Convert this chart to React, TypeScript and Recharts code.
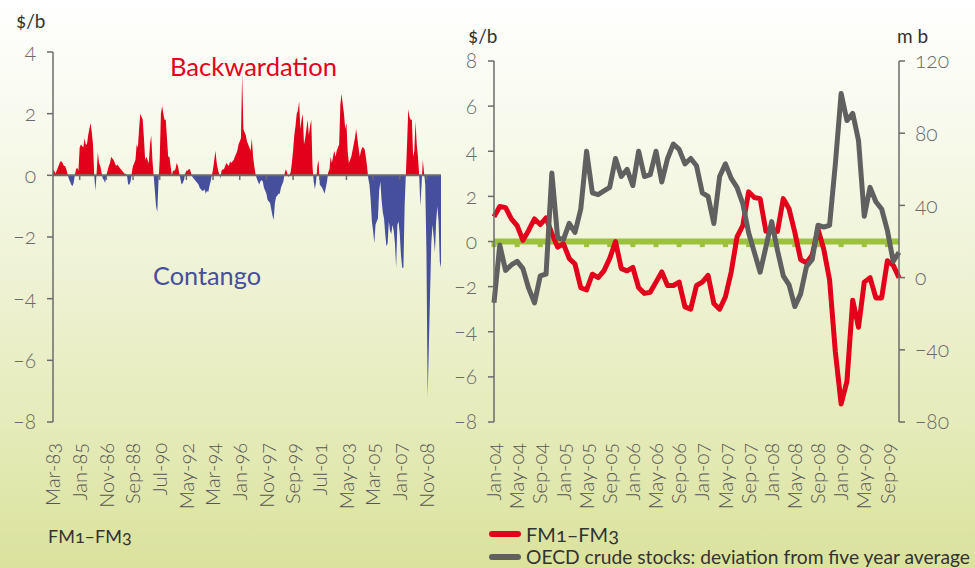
import React from 'react';
import { AreaChart, Area, LineChart, Line, XAxis, YAxis, ReferenceLine } from 'recharts';

const MONTHS = ['Jan', 'Feb', 'Mar', 'Apr', 'May', 'Jun', 'Jul', 'Aug', 'Sep', 'Oct', 'Nov', 'Dec'];

const monthLabels = (year: number, month: number, count: number) =>
  Array.from({ length: count }, (_, i) => {
    const m = month + i;
    const y = year + Math.floor(m / 12);
    return `${MONTHS[m % 12]}-${String(y % 100).padStart(2, '0')}`;
  });

// FM1–FM3, $/b, monthly Mar-83 .. Nov-09
const spreadLong = [
  0.2, 0.15, 0.05, 0.15, 0.25, 0.35, 0.45, 0.45, 0.4, 0.3,
  0.3, 0.2, 0.05, -0.1, -0.2, -0.3, -0.35, -0.25, 0, 0.2, 0.25, 0.15,
  0.9, 1.0, 0.95, 0.9, 1.2, 1.0, 1.0, 1.3, 1.5, 1.7, 1.4, 1.0,
  0, -0.5, 0.1, 0.75, 0.4, 0.3, 0.1, -0.1, -0.15, -0.25, 0, 0.15,
  0.3, 0.4, 0.6, 0.55, 0.5, 0.4, 0.3, 0.35, 0.3, 0.25, 0.2, 0.15,
  0.1, 0.05, 0.05, 0, -0.3, -0.3, -0.2, 0.1, 0.3, 0.4, 0.5, 1.0,
  0.9, 1.5, 2.0, 1.9, 1.8, 1.2, 0.5, 0.6, 0.5, 0.4, 1.0, 1.3,
  0.5, 0, -0.5, -1.0, -1.2, -0.2, 0.5, 2.0, 2.25, 2.0, 1.8, 1.8,
  1.2, 0.6, 0.6, 0.3, 0, 0.15, 0.15, 0.2, 0.4, 0.3, 0.1, -0.1,
  -0.3, -0.25, -0.15, 0.05, 0.15, 0.15, 0.2, 0.2, 0.05, -0.05, -0.1, -0.15,
  -0.2, -0.25, -0.3, -0.4, -0.45, -0.5, -0.5, -0.45, -0.6, -0.5, -0.55, -0.35,
  -0.2, 0, 0.2, 0.5, 0.8, 0.4, 0.2, 0.05, -0.1, 0.15, 0.2, 0.2,
  0.3, 0.4, 0.35, 0.3, 0.45, 0.4, 0.45, 0.5, 0.6, 0.7, 0.8, 1.0,
  1.1, 1.2, 3.3, 1.5, 1.4, 1.3, 1.1, 1.0, 0.9, 0.8, 1.2, 0.6,
  0.3, 0.05, -0.1, -0.2, -0.3, -0.2, -0.15, -0.2, -0.4, -0.5, -0.6, -0.8,
  -0.85, -0.9, -1.1, -1.3, -1.45, -0.9, -0.7, -0.65, -0.6, -0.6, -0.4, -0.3,
  -0.2, 0.05, 0.2, 0.1, -0.05, 0, 0.1, 0.4, 0.8, 1.3, 1.6, 2.0,
  2.1, 2.4, 1.5, 1.8, 2.0, 1.0, 1.2, 1.5, 1.8, 1.3, 1.6, 1.8,
  0.3, -0.2, -0.45, -0.2, 0.3, 0.5, -0.3, -0.35, -0.4, -0.5, -0.6, -0.4,
  -0.2, 0.1, 0.2, 0.6, 0.4, 0.6, 0.8, 0.6, 0.8, 0.9, 1.0, 2.3,
  2.65, 2.3, 2.0, 1.5, 1.7, 0.8, 0.4, 0.5, 0.6, 0.8, 1.0, 1.2,
  1.5, 1.2, 0.9, 0.6, 0.8, 0.9, 0.9, 0.85, 0.6, 0.3, -0.1, -0.3,
  -0.8, -1.5, -1.8, -2.2, -1.6, -1.5, -1.4, -0.5, -0.2, -0.8, -1.2, -1.4,
  -1.9, -2.3, -2.2, -1.5, -1.8, -1.9, -1.6, -1.8, -2.2, -3.0, -1.6, -1.5,
  -1.9, -2.6, -3.0, -3.0, -1.0, 0, 1.0, 2.14, 1.9, 1.8, 1.8, 0.6,
  0.8, 1.75, 1.0, 0.6, 0, -1.0, -0.3, 0.5, 0.1, -0.3, -2.5, -7.2,
  -5.5, -3.8, -2.2, -1.6, -2.0, -2.5, -1.5, -1.0, -1.5, -2.8, -3.0,
];

// FM1–FM3, $/b, monthly Jan-04 .. Nov-09
const spreadShort = [
  1.1, 1.55, 1.5, 1.0, 0.7, 0.05, 0.5, 1.0, 0.75, 1.05, 0.35, -0.25,
  -0.1, -0.75, -1.0, -2.05, -2.15, -1.45, -1.6, -1.3, -0.75, 0.0, -1.2, -1.3,
  -1.15, -2.05, -2.3, -2.25, -1.8, -1.35, -1.95, -1.95, -1.8, -2.9, -3.0, -1.95,
  -1.8, -1.5, -2.75, -3.0, -2.45, -1.35, 0.2, 0.7, 2.2, 1.95, 1.9, 0.45,
  0.55, 0.45, 1.9, 1.45, 0.4, -0.8, -0.95, -0.6, 0.55, -0.35, -1.7, -4.9,
  -7.2, -6.2, -2.6, -3.8, -1.8, -1.6, -2.5, -2.5, -0.85, -1.05, -1.6,
];

// OECD crude stocks, deviation from five year average, m b
const oecdStocks = [
  -14, 18, 4, 7, 9, 5, -6, -14, 1, 2, 58, 22,
  21, 30, 25, 38, 70, 47, 46, 48, 50, 66, 56, 60,
  51, 70, 56, 57, 70, 53, 66, 74, 71, 63, 66, 62,
  47, 45, 30, 56, 63, 55, 50, 41, 25, 14, 3, 17,
  31, 15, 1, -4, -16, -9, 6, 10, 29, 28, 29, 63,
  102, 87, 91, 76, 34, 50, 42, 38, 26, 9, 14,
];

const longLabels = monthLabels(1983, 2, spreadLong.length);
const shortLabels = monthLabels(2004, 0, spreadShort.length);

const longTicks = [-8, -6, -4, -2, 0, 2, 4];
const leftTicks = [-8, -6, -4, -2, 0, 2, 4, 6, 8];
const rightTicks = [-80, -40, 0, 40, 80, 120];

const longData = spreadLong.map((v, i) => ({ m: longLabels[i], v }));
const shortData = spreadShort.map((v, i) => ({ m: shortLabels[i], fm: v, stocks: oecdStocks[i] }));

const longMarks = longLabels.filter((_, i) => i > 0 && i % 22 === 0);
const shortMarks = shortLabels.filter((_, i) => i % 4 === 0);

const maxV = Math.max(...spreadLong);
const minV = Math.min(...spreadLong);
const split = maxV / (maxV - minV);

const RED = '#e2001a';
const BLUE = '#454f9c';
const GREY = '#606060';
const AXIS = '#6b6b6b';
const GREEN = '#9cc23c';

const minus = (v: number) => (v < 0 ? `\u2212${Math.abs(v)}` : `${v}`);

const MonthTick = (props: any) => {
  const { x, y, payload } = props;
  return (
    <text
      x={x}
      y={y}
      dy="0.36em"
      textAnchor="end"
      fill="#555"
      fontSize={20}
      fontWeight={300}
      transform={`rotate(-90 ${x} ${y})`}
    >
      {payload.value}
    </text>
  );
};

const yTick = { fill: AXIS, fontSize: 21, fontWeight: 300 };
const axisLine = { stroke: AXIS, strokeWidth: 1.5 };

export default function App() {
  return (
    <div
      style={{
        position: 'absolute',
        left: 0,
        top: 0,
        width: 975,
        height: 568,
        overflow: 'hidden',
        fontFamily: 'Lato, "Noto Sans", sans-serif',
        fontVariantNumeric: 'oldstyle-nums',
        background: 'linear-gradient(to bottom, #ffffff 0%, #f7f9ea 25%, #eef2d3 50%, #e5ebb9 75%, #dae29c 100%)',
      }}
    >
      <div style={{ position: 'absolute', left: 0, top: 0 }}>
        <AreaChart width={460} height={568} data={longData} margin={{ top: 52, right: 19, bottom: 0, left: 0 }}>
          <defs>
            <linearGradient id="splitFill" x1="0" y1="0" x2="0" y2="1">
              <stop offset={split} stopColor={RED} />
              <stop offset={split} stopColor={BLUE} />
            </linearGradient>
          </defs>
          <XAxis
            dataKey="m"
            interval={21}
            height={146}
            axisLine={false}
            tickLine={false}
            tickSize={0}
            tickMargin={21}
            tick={<MonthTick />}
          />
          <YAxis
            domain={[-8, 4]}
            ticks={longTicks}
            width={53}
            tick={yTick}
            tickFormatter={minus}
            tickSize={6}
            tickMargin={11}
            axisLine={axisLine}
            tickLine={axisLine}
          />
          {longMarks.map((m) => (
            <ReferenceLine
              key={m}
              segment={[{ x: m, y: 0 }, { x: m, y: -0.15 }]}
              stroke={AXIS}
              strokeWidth={1.5}
            />
          ))}
          <Area
            type="linear"
            dataKey="v"
            stroke="none"
            fill="url(#splitFill)"
            fillOpacity={1}
            isAnimationActive={false}
          />
          <ReferenceLine y={0} stroke={AXIS} strokeWidth={2} />
        </AreaChart>
      </div>

      <div style={{ position: 'absolute', left: 440, top: 0 }}>
        <LineChart width={535} height={568} data={shortData} margin={{ top: 61, right: 0, bottom: 0, left: 0 }}>
          <XAxis
            dataKey="m"
            interval={3}
            height={146}
            axisLine={false}
            tickLine={false}
            tickSize={0}
            tickMargin={21}
            tick={<MonthTick />}
          />
          <YAxis
            yAxisId="l"
            domain={[-8, 8]}
            ticks={leftTicks}
            width={54}
            tick={yTick}
            tickFormatter={minus}
            tickSize={6}
            tickMargin={11}
            axisLine={axisLine}
            tickLine={axisLine}
          />
          <YAxis
            yAxisId="r"
            orientation="right"
            domain={[-80, 120]}
            ticks={rightTicks}
            width={76}
            tick={{ ...yTick, textAnchor: 'start' }}
            tickFormatter={minus}
            tickSize={6}
            tickMargin={10}
            axisLine={axisLine}
            tickLine={axisLine}
          />
          <ReferenceLine yAxisId="l" y={0} stroke={GREEN} strokeWidth={6} />
          {shortMarks.map((m) => (
            <ReferenceLine
              key={m}
              yAxisId="l"
              segment={[{ x: m, y: 0 }, { x: m, y: -0.25 }]}
              stroke={GREEN}
              strokeWidth={5}
            />
          ))}
          <Line
            yAxisId="l"
            type="linear"
            dataKey="fm"
            stroke={RED}
            strokeWidth={5}
            strokeLinejoin="round"
            dot={false}
            isAnimationActive={false}
          />
          <Line
            yAxisId="r"
            type="linear"
            dataKey="stocks"
            stroke={GREY}
            strokeWidth={5}
            strokeLinejoin="round"
            dot={false}
            isAnimationActive={false}
          />
        </LineChart>
      </div>

      <svg width={975} height={568} style={{ position: 'absolute', left: 0, top: 0, pointerEvents: 'none' }}>
        <text x={16} y={28} fontSize={19} fill="#333">$/b</text>
        <text x={468} y={43} fontSize={19} fill="#333">$/b</text>
        <text x={897} y={43} fontSize={19} fill="#333">m b</text>
        <text x={170} y={76} fontSize={25} fill={RED} textLength={167} lengthAdjust="spacingAndGlyphs">
          Backwardation
        </text>
        <text x={153} y={285} fontSize={25} fill={BLUE} textLength={108} lengthAdjust="spacingAndGlyphs">
          Contango
        </text>
        <text x={48} y={543} fontSize={18} fill="#333">FM1–FM3</text>
        <line x1={492} y1={534} x2={518} y2={534} stroke={RED} strokeWidth={6} strokeLinecap="round" />
        <text x={526} y={542} fontSize={20} fill="#333">FM1–FM3</text>
        <line x1={492} y1={557} x2={518} y2={557} stroke={GREY} strokeWidth={6} strokeLinecap="round" />
        <text x={526} y={564} fontSize={19} fill="#333" textLength={444} lengthAdjust="spacingAndGlyphs">
          OECD crude stocks: deviation from five year average
        </text>
      </svg>
    </div>
  );
}
